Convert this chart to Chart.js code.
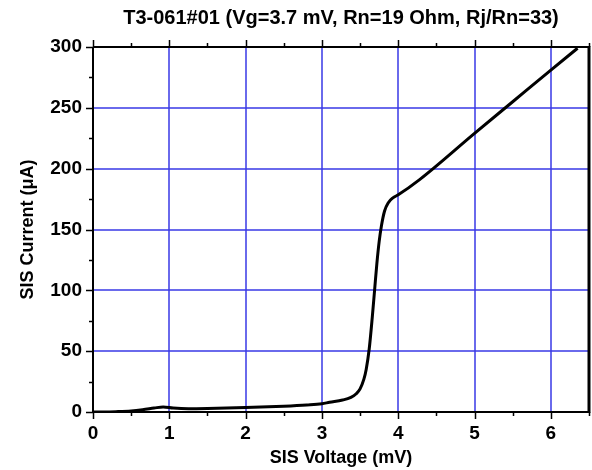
<!DOCTYPE html>
<html>
<head>
<meta charset="utf-8">
<script src="https://cdn.jsdelivr.net/npm/chart.js@4/dist/chart.umd.min.js"></script>
<style>
  html, body { margin: 0; padding: 0; background: #fff; }
</style>
</head>
<body>
<canvas id="ivChart" width="592" height="470"></canvas>
<script>
const voltage = [0, 0.3, 0.5, 0.65, 0.8, 0.92, 1.05, 1.25, 1.5, 2.0, 2.5, 2.8, 3.0, 3.1, 3.27, 3.38, 3.45, 3.5, 3.55, 3.58, 3.62, 3.66, 3.69, 3.72, 3.75, 3.78, 3.82, 3.87, 3.93, 4.0, 4.28, 5.0, 5.5, 6.0, 6.35];
const current = [0, 0.3, 0.8, 1.8, 3.2, 4.2, 3.2, 2.6, 2.8, 3.6, 4.8, 5.8, 6.8, 8.0, 9.8, 12, 15, 19, 27, 35, 52, 78, 100, 122, 140, 153, 165, 172, 176, 178.5, 191, 229, 255, 281, 299];

const xRange = [0, 6.5];
const yRange = [0, 300];
const xStep = 0.5;   // minor tick spacing
const yStep = 25;
const xMajor = 1;
const yMajor = 50;

const GRID = '#3a3ae6';
const FONT = 'Liberation Sans, Arial, sans-serif';

const isMajor = (v, m) => Math.abs(v / m - Math.round(v / m)) < 1e-6;

// blue grid at major ticks, under the curve
const gridPlugin = {
    id: 'blueGrid',
    beforeDatasetsDraw(chart) {
        const { ctx, chartArea: a, scales: { x, y } } = chart;
        ctx.save();
        ctx.strokeStyle = GRID;
        ctx.lineWidth = 1.5;
        ctx.beginPath();
        x.ticks.forEach(t => {
            if (!isMajor(t.value, xMajor) || t.value <= xRange[0] || t.value >= xRange[1]) return;
            const px = Math.round(x.getPixelForValue(t.value));
            ctx.moveTo(px, a.top);
            ctx.lineTo(px, a.bottom);
        });
        y.ticks.forEach(t => {
            if (!isMajor(t.value, yMajor) || t.value <= yRange[0] || t.value >= yRange[1]) return;
            const py = Math.round(y.getPixelForValue(t.value));
            ctx.moveTo(a.left, py);
            ctx.lineTo(a.right, py);
        });
        ctx.stroke();
        ctx.restore();
    }
};

// frame + tick marks, drawn from the chart scales
const framePlugin = {
    id: 'frame',
    afterDraw(chart) {
        const { ctx, chartArea: a, scales: { x, y } } = chart;
        ctx.save();
        ctx.strokeStyle = '#000';
        ctx.lineWidth = 2;
        ctx.beginPath();
        ctx.moveTo(a.left, a.top);
        ctx.lineTo(a.left, a.bottom);
        ctx.lineTo(a.right, a.bottom);
        ctx.moveTo(a.left, a.top);
        ctx.lineTo(a.right, a.top);
        ctx.stroke();
        ctx.lineWidth = 3;
        ctx.beginPath();
        ctx.moveTo(a.right, a.top - 1);
        ctx.lineTo(a.right, a.bottom + 1);
        ctx.stroke();

        ctx.lineWidth = 1.5;
        ctx.beginPath();
        x.ticks.forEach(t => {
            const px = Math.round(x.getPixelForValue(t.value)) + 0.5;
            const len = isMajor(t.value, xMajor) ? 7 : 4;
            ctx.moveTo(px, a.bottom);
            ctx.lineTo(px, a.bottom + len);
            ctx.moveTo(px, a.top);
            ctx.lineTo(px, a.top - len);
        });
        y.ticks.forEach(t => {
            const py = Math.round(y.getPixelForValue(t.value)) + 0.5;
            const len = isMajor(t.value, yMajor) ? 7 : 4;
            ctx.moveTo(a.left, py);
            ctx.lineTo(a.left - len, py);
        });
        ctx.stroke();
        ctx.restore();
    }
};

new Chart(document.getElementById('ivChart').getContext('2d'), {
    type: 'line',
    data: {
        datasets: [{
            data: voltage.map((v, i) => ({ x: v, y: current[i] })),
            borderColor: '#000',
            borderWidth: 3,
            pointRadius: 0,
            fill: false,
            cubicInterpolationMode: 'monotone'
        }]
    },
    options: {
        responsive: false,
        animation: false,
        layout: { padding: { left: 0, right: 3, top: 0, bottom: 0 } },
        plugins: {
            legend: { display: false },
            tooltip: { enabled: false },
            title: {
                display: true,
                fullSize: false,
                text: 'T3-061#01 (Vg=3.7 mV, Rn=19 Ohm, Rj/Rn=33)',
                color: '#000',
                font: { family: FONT, size: 20, weight: 'bold' },
                padding: { top: 6, bottom: 17 }
            }
        },
        scales: {
            x: {
                type: 'linear',
                min: xRange[0],
                max: xRange[1],
                afterFit(s) { s.height = 58; s.paddingLeft = 0; s.paddingRight = 0; },
                border: { display: false },
                grid: { display: false, drawTicks: false },
                ticks: {
                    stepSize: xStep,
                    autoSkip: false,
                    maxRotation: 0,
                    padding: 10,
                    color: '#000',
                    font: { family: FONT, size: 19, weight: 'bold' },
                    callback: v => isMajor(v, xMajor) && v < xRange[1] ? String(Math.round(v)) : ''
                },
                title: {
                    display: true,
                    text: 'SIS Voltage (mV)',
                    color: '#000',
                    font: { family: FONT, size: 18, weight: 'bold' },
                    padding: { top: 0, bottom: 1 }
                }
            },
            y: {
                type: 'linear',
                min: yRange[0],
                max: yRange[1],
                afterFit(s) { s.width = 93; },
                border: { display: false },
                grid: { display: false, drawTicks: false },
                ticks: {
                    stepSize: yStep,
                    autoSkip: false,
                    padding: 11,
                    color: '#000',
                    font: { family: FONT, size: 19, weight: 'bold' },
                    callback: v => isMajor(v, yMajor) ? String(v) : ''
                },
                title: {
                    display: true,
                    text: 'SIS Current (\u03BCA)',
                    color: '#000',
                    font: { family: FONT, size: 18, weight: 'bold' },
                    padding: { top: 17, bottom: 0 }
                }
            }
        }
    },
    plugins: [gridPlugin, framePlugin]
});
</script>
</body>
</html>
